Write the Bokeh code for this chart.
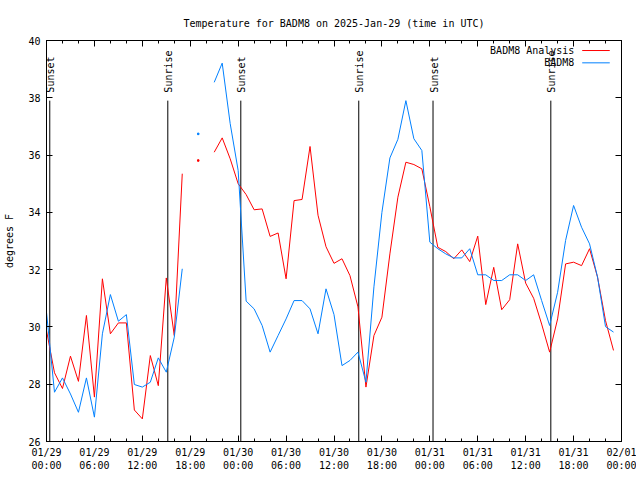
import math
from bokeh.plotting import figure
from bokeh.models import Range1d, FixedTicker, LinearAxis, Label
from bokeh.core.properties import value
from bokeh.embed import file_html
from bokeh.resources import INLINE

nan = float("nan")

# ---- data (hours since 2025-01-29 00:00 UTC) ----
hours = list(range(72))
analysis_temp = [29.87, 28.4, 27.85, 28.98, 28.1, 30.4, 27.55, 31.68, 29.76, 30.14,
                 30.14, 27.1, 26.79, 29.0, 27.95, 31.71, 29.7, 35.35, nan, 35.81,
                 nan, 36.1, 36.6, 35.87, 35.0, 34.62, 34.09, 34.12, 33.16, 33.28,
                 31.68, 34.41, 34.45, 36.3, 33.9, 32.8, 32.22, 32.38, 31.79, 30.7,
                 27.9, 29.7, 30.34, 32.55, 34.53, 35.75, 35.67, 35.52, 34.2, 32.78,
                 32.63, 32.38, 32.69, 32.28, 33.17, 30.78, 32.08, 30.6, 30.95, 32.9,
                 31.53, 31.0, 30.1, 29.12, 30.28, 32.2, 32.26, 32.14, 32.73, 31.74,
                 30.22, 29.18]
obs_temp = [30.51, 27.72, 28.22, 27.66, 27.02, 28.22, 26.85, 29.76, 31.13, 30.2,
            30.43, 27.99, 27.9, 28.07, 28.92, 28.42, 29.64, 32.03, nan, 36.74,
            nan, 38.54, 39.21, 37.1, 35.46, 30.9, 30.63, 30.05, 29.12, 29.7,
            30.28, 30.92, 30.92, 30.63, 29.76, 31.33, 30.43, 28.65, 28.83, 29.12,
            28.07, 31.4, 34.0, 35.9, 36.55, 37.9, 36.57, 36.16, 32.96, 32.73,
            32.55, 32.41, 32.41, 32.73, 31.82, 31.82, 31.62, 31.62, 31.82, 31.82,
            31.62, 31.82, 30.92, 30.05, 31.21, 33.02, 34.24, 33.48, 32.9, 31.74,
            30.01, 29.82]

sun_event_hours = [0.41, 15.19, 24.33, 39.1, 48.4, 63.15]
sun_event_names = ["Sunset", "Sunrise", "Sunset", "Sunrise", "Sunset", "Sunrise"]

x_ticks = [0, 6, 12, 18, 24, 30, 36, 42, 48, 54, 60, 66, 72]
x_tick_labels = ["01/29\n00:00", "01/29\n06:00", "01/29\n12:00", "01/29\n18:00",
                 "01/30\n00:00", "01/30\n06:00", "01/30\n12:00", "01/30\n18:00",
                 "01/31\n00:00", "01/31\n06:00", "01/31\n12:00", "01/31\n18:00",
                 "02/01\n00:00"]
x_minor_ticks = list(range(0, 73, 2))
y_ticks = [26, 28, 30, 32, 34, 36, 38, 40]

series_names = ["BADM8 Analysis", "BADM8"]
series_colors = ["#ff0000", "#0080ff"]

FONT = "DejaVu Sans Mono"
FS = "10px"

p = figure(frame_width=575, frame_height=401,
           x_range=Range1d(0, 72), y_range=Range1d(26, 40),
           output_backend="svg", toolbar_location=None,
           min_border_left=46, min_border_right=15,
           min_border_top=40, min_border_bottom=35,
           background_fill_color="white", border_fill_color="white")

p.title.text = "Temperature for BADM8 on 2025-Jan-29 (time in UTC)"
p.title.text_font = FONT
p.title.text_font_size = FS
p.title.text_font_style = "normal"
p.title.align = "center"
p.title.text_color = "black"
p.title.standoff = 24

p.xgrid.grid_line_color = None
p.ygrid.grid_line_color = None
p.outline_line_color = "black"
p.outline_line_width = 1


def style_axis(ax):
    ax.axis_line_color = "black"
    ax.major_tick_line_color = "black"
    ax.minor_tick_line_color = "black"
    ax.major_tick_in = 6
    ax.major_tick_out = 0
    ax.minor_tick_in = 3
    ax.minor_tick_out = 0
    ax.major_label_text_font = FONT
    ax.major_label_text_font_size = FS
    ax.major_label_text_color = "black"


xa = p.xaxis[0]
xa.ticker = FixedTicker(ticks=x_ticks, minor_ticks=x_minor_ticks)
xa.major_label_overrides = dict(zip(x_ticks, x_tick_labels))
style_axis(xa)
xa.major_label_standoff = 5

ya = p.yaxis[0]
ya.ticker = FixedTicker(ticks=y_ticks, minor_ticks=[])
style_axis(ya)
ya.major_label_standoff = 6
ya.axis_label = "degrees F"
ya.axis_label_text_font = FONT
ya.axis_label_text_font_size = FS
ya.axis_label_text_font_style = "normal"
ya.axis_label_text_color = "black"
ya.axis_label_standoff = 10

# mirrored tick marks
top_ax = LinearAxis(ticker=FixedTicker(ticks=x_ticks, minor_ticks=x_minor_ticks),
                    major_label_overrides={t: "" for t in x_ticks})
style_axis(top_ax)
top_ax.major_label_standoff = 0
p.add_layout(top_ax, "above")

right_ax = LinearAxis(ticker=FixedTicker(ticks=y_ticks, minor_ticks=[]),
                      major_label_overrides={t: "" for t in y_ticks})
style_axis(right_ax)
right_ax.major_label_standoff = 0
p.add_layout(right_ax, "right")

# sunrise / sunset markers
LINE_TOP = 37.9
p.segment(x0=sun_event_hours, y0=[26] * len(sun_event_hours),
          x1=sun_event_hours, y1=[LINE_TOP] * len(sun_event_hours),
          line_color="black", line_width=1)
p.text(x=sun_event_hours, y=[38.18] * len(sun_event_hours), text=sun_event_names,
       angle=math.pi / 2, text_align="left", text_baseline="middle",
       x_offset=1, text_font=value(FONT), text_font_size=FS, text_color="black")

# series
for vals, col in zip([analysis_temp, obs_temp], series_colors):
    p.line(hours, vals, line_color=col, line_width=1)
    iso_x, iso_y = [], []
    for i, v in enumerate(vals):
        if math.isnan(v):
            continue
        prev_nan = i == 0 or math.isnan(vals[i - 1])
        next_nan = i == len(vals) - 1 or math.isnan(vals[i + 1])
        if prev_nan and next_nan:
            iso_x.append(hours[i]); iso_y.append(v)
    if iso_x:
        p.scatter(iso_x, iso_y, marker="square", size=1.5, fill_color=col,
                  line_color=col)

# gnuplot-style key (text left of sample)
key_rows_y = [39.65, 39.22]
for name, col, ky in zip(series_names, series_colors, key_rows_y):
    p.add_layout(Label(x=66.1, y=ky, text=name, text_align="right",
                       text_baseline="middle", text_font=FONT, text_font_size=FS,
                       text_color="black"))
    p.segment(x0=[67.08], y0=[ky], x1=[70.53], y1=[ky], line_color=col, line_width=1)

open("out.html", "w").write(file_html(p, INLINE))
